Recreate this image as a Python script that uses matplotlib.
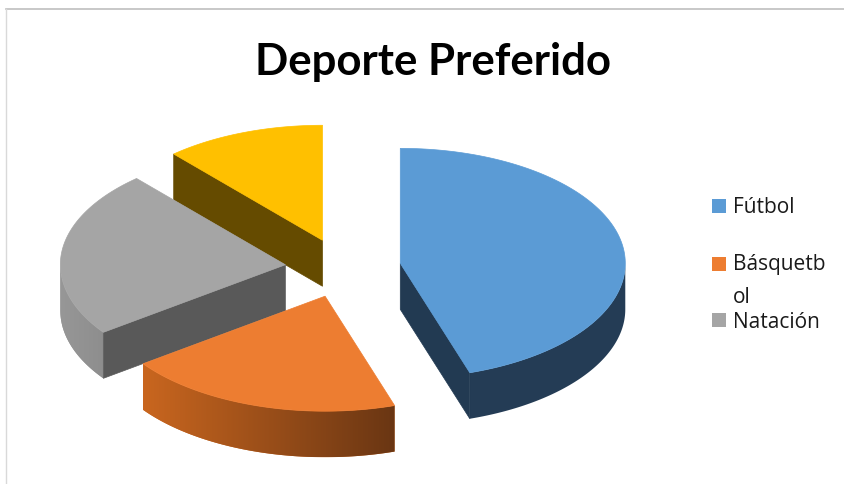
import numpy as np
import matplotlib.pyplot as plt
import matplotlib.colors as mcolors
from matplotlib.patches import Polygon, Rectangle
from matplotlib.lines import Line2D

# datos del grafico
deportes = ['Fútbol', 'Básquetbol', 'Natación', 'Otros']
porcentajes = [45, 20, 23.5, 11.5]
colores = ['#5B9BD5', '#ED7D31', '#A5A5A5', '#FFC000']
# pared exterior (izq, der) y pared radial de cada porcion
pared_ext = [('#243C55', '#243C55'), ('#C9661F', '#6A3613'),
             ('#979797', '#8E8E8E'), ('#6B5000', '#6B5000')]
pared_rad = ['#223A52', '#7A3F14', '#595959', '#654B00']
leyenda = ['Fútbol', 'Básquetb\nol', 'Natación']  # asi sale cortado en el original

titulo = 'Deporte Preferido'

# geometria del pastel (en pixeles de la figura)
cx, cy = 343, 268
a, b = 225, 115   # semiejes de la elipse
prof = 46         # grosor
sep = 58          # separacion de las porciones
k = b / a

fig = plt.figure(figsize=(8.44, 4.84), dpi=100)
ax = fig.add_axes([0, 0, 1, 1])
ax.axis('off')


def punto(ox, oy, ang):
    return ox + a * np.sin(ang), oy - b * np.cos(ang)


total = sum(porcentajes)
bordes = np.concatenate([[0], np.cumsum(porcentajes)]) / total * 2 * np.pi

porciones = []
for i in range(len(porcentajes)):
    t1, t2 = bordes[i], bordes[i + 1]
    mid = (t1 + t2) / 2
    ox = cx + sep * np.sin(mid)
    oy = cy - sep * k * np.cos(mid)
    porciones.append((-np.cos(mid), i, t1, t2, ox, oy))

z = 1
# se dibujan de atras hacia adelante
for _, i, t1, t2, ox, oy in sorted(porciones):
    # pared exterior (solo la parte que mira al frente), con degradado
    lo, hi = max(t1, np.pi / 2), min(t2, 3 * np.pi / 2)
    if hi > lo:
        ts = np.linspace(lo, hi, 120)
        xs, ys = punto(ox, oy, ts)
        pared = list(zip(xs, ys)) + list(zip(xs[::-1], ys[::-1] + prof))
        c_izq, c_der = pared_ext[i]
        borde = Polygon(pared, closed=True, facecolor=c_izq, edgecolor='none',
                        zorder=z)
        ax.add_patch(borde)
        if c_izq != c_der:
            cmap = mcolors.LinearSegmentedColormap.from_list('p', [c_izq, c_der])
            grad = np.linspace(0, 1, 256).reshape(1, -1)
            im = ax.imshow(grad, cmap=cmap, aspect='auto', zorder=z + 0.5,
                           extent=[xs.min(), xs.max(), ys.max() + prof, ys.min()])
            im.set_clip_path(borde)
        z += 1
    # paredes radiales visibles
    for t, visible in ((t1, np.sin(t1) < -1e-6), (t2, np.sin(t2) > 1e-6)):
        if visible:
            ex, ey = punto(ox, oy, t)
            cara = [(ox, oy), (ex, ey), (ex, ey + prof), (ox, oy + prof)]
            ax.add_patch(Polygon(cara, closed=True, facecolor=pared_rad[i],
                                 edgecolor=pared_rad[i], lw=0.5, zorder=z))
            z += 1
    # cara superior
    ts = np.linspace(t1, t2, 150)
    xs, ys = punto(ox, oy, ts)
    sup = [(ox, oy)] + list(zip(xs, ys))
    ax.add_patch(Polygon(sup, closed=True, facecolor=colores[i],
                         edgecolor=colores[i], lw=0.5, zorder=z))
    z += 1

ax.set_xlim(0, 844)
ax.set_ylim(484, 0)

# titulo
ax.text(433, 62, titulo, ha='center', va='center', fontsize=31.5,
        fontweight='bold', family='Lato', color='black', zorder=z)

# leyenda a mano, como en la imagen
pos_leyenda = [(206, [213]), (264, [270, 303]), (320, [328])]
for i, (yc, bases) in enumerate(pos_leyenda):
    ax.add_patch(Rectangle((712, yc - 7), 14, 14, facecolor=colores[i],
                           edgecolor='none', zorder=z))
    for linea, yb in zip(leyenda[i].split('\n'), bases):
        ax.text(733, yb, linea, ha='left', va='baseline', fontsize=15,
                family='Open Sans', color='#1a1a1a', zorder=z)

# marco del area del grafico
fig.add_artist(Line2D([6 / 844, 1], [1 - 9 / 484, 1 - 9 / 484],
                      color='#BFBFBF', lw=1.2, transform=fig.transFigure))
fig.add_artist(Line2D([6 / 844, 6 / 844], [0, 1 - 9 / 484],
                      color='#D9D9D9', lw=1.0, transform=fig.transFigure))

fig.savefig('out.png', dpi=100, facecolor='white')
